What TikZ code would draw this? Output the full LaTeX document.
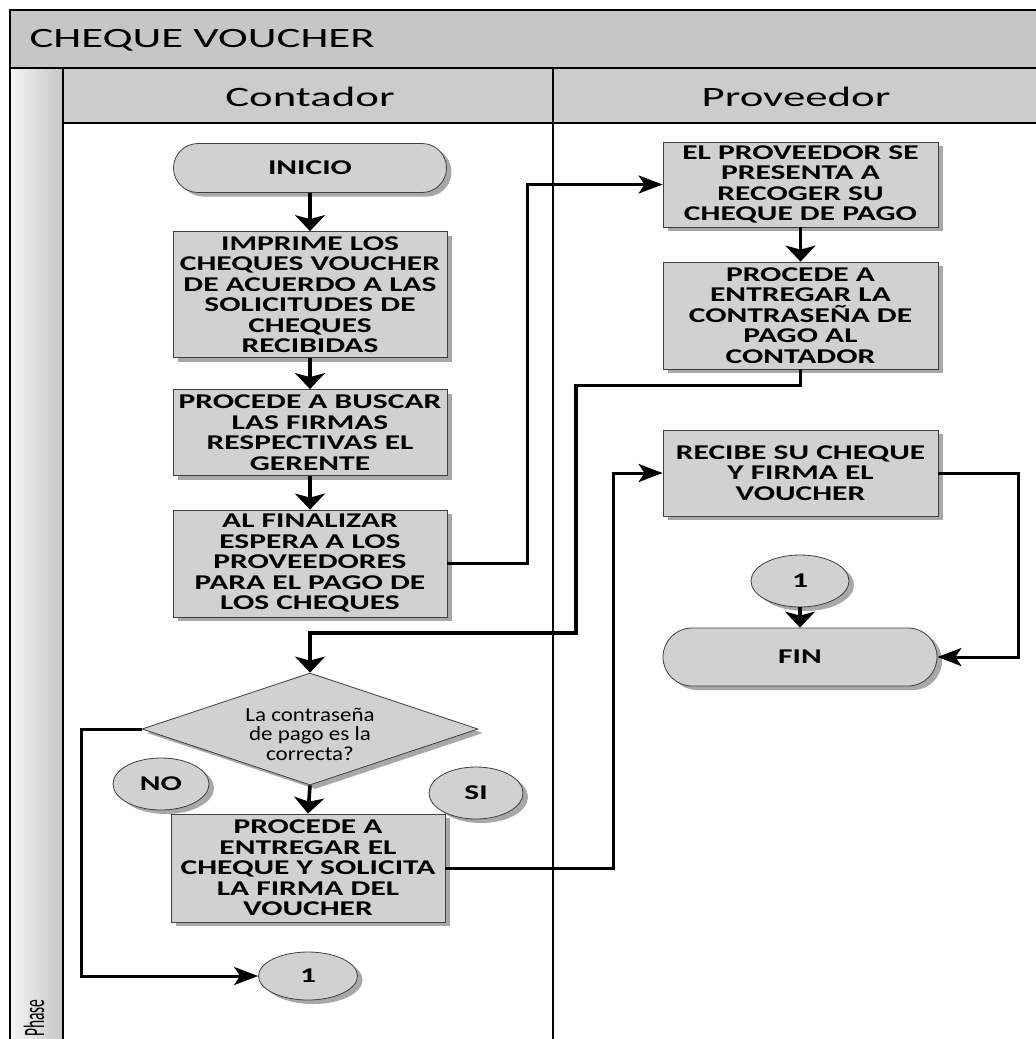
\documentclass[tikz,border=0pt]{standalone}
\usepackage{fontspec}
\setmainfont{Carlito}
\newfontfamily\widefont{Carlito}[FakeStretch=1.6]
\newfontfamily\boxfont{Carlito}[FakeStretch=1.5]
\newfontfamily\questionfont{Carlito}[FakeStretch=1.15]
\usetikzlibrary{shapes.geometric,shapes.misc,arrows.meta,shadows}

\tikzset{
  shapefill/.style={fill=gray!36, draw=black!75, line width=0.8pt,
    drop shadow={shadow xshift=5pt, shadow yshift=-4pt, fill=gray!68, opacity=1}},
  capstext/.style={font=\boxfont\bfseries\fontsize{21}{20.5}\selectfont, align=center},
  procbox/.style={shapefill, capstext, rectangle, minimum width=274pt, inner sep=0pt},
  terminal/.style={shapefill, capstext, rounded rectangle, minimum width=273pt, inner sep=0pt},
  connector/.style={shapefill, capstext, ellipse, inner sep=0pt},
  decision/.style={shapefill, diamond, inner sep=0pt},
  questiontext/.style={align=center, inner sep=0pt, font=\questionfont\fontsize{20}{19.5}\selectfont},
  flow/.style={line width=3pt, line join=miter, draw=black},
  varrow/.style={flow, line width=3.6pt, -{Stealth[length=16pt, width=30pt, inset=4pt]}},
  harrow/.style={flow, -{Stealth[length=24pt, width=18pt, inset=6pt]}},
  band/.style={fill=gray!45, draw=none},
  frameline/.style={draw=black, line width=1.8pt},
  lanetitle/.style={font=\widefont\fontsize{28}{30}\selectfont}
}

\begin{document}
\begin{tikzpicture}[x=1pt,y=-1pt]
\useasboundingbox (0,0) rectangle (1036,1039);
\clip (0,0) rectangle (1036,1039);
\fill[white] (0,0) rectangle (1036,1039);

% pool title band, phase column and lane headers
\fill[band] (10,10) rectangle (1050,68);
\shade[left color=gray!8, right color=gray!45] (10,68) rectangle (63,1050);
\fill[band, fill=gray!40] (63,68) rectangle (1050,123);
\node[lanetitle, anchor=west] (pooltitle) at (26,40) {CHEQUE VOUCHER};
\node[lanetitle] (lane1) at (310,97) {Contador};
\node[lanetitle] (lane2) at (796,97) {Proveedor};
\node[rotate=90, anchor=base west, inner sep=0pt] (phase) at (44,1037)
  {\fontsize{15.5}{16}\selectfont\scalebox{1}[1.9]{Phase}};

% frame and lane separators
\draw[frameline] (10,1050) -- (10,10) -- (1050,10);
\draw[frameline, line width=1.4pt] (10,68) -- (1050,68);
\draw[frameline, line width=1.4pt] (63,123) -- (1050,123);
\draw[frameline] (63,68) -- (63,1050);
\draw[frameline] (553,68) -- (553,1050);

% Contador lane
\node[terminal, minimum height=49pt] (inicio) at (310,168) {INICIO};
\node[procbox, minimum height=126pt] (b1) at (310,294.5)
  {IMPRIME LOS\\CHEQUES VOUCHER\\DE ACUERDO A LAS\\SOLICITUDES DE\\CHEQUES\\RECIBIDAS};
\node[procbox, minimum height=86pt] (b2) at (310,432.5)
  {PROCEDE A BUSCAR\\LAS FIRMAS\\RESPECTIVAS EL\\GERENTE};
\node[procbox, minimum height=107pt] (b3) at (310,563.5)
  {AL FINALIZAR\\ESPERA A LOS\\PROVEEDORES\\PARA EL PAGO DE\\LOS CHEQUES};
\node[decision, minimum width=336pt, minimum height=112pt] (dec) at (310,729) {};
\node[questiontext] (dectext) at (310,734)
  {La contraseña\\de pago es la\\correcta?};
\node[connector, minimum width=96pt, minimum height=52pt] (no) at (161,784) {NO};
\node[connector, minimum width=94pt, minimum height=52pt] (si) at (476,793) {SI};
\node[procbox, minimum height=108pt] (b4) at (308,868)
  {PROCEDE A\\ENTREGAR EL\\CHEQUE Y SOLICITA\\LA FIRMA DEL\\VOUCHER};
\node[connector, minimum width=99pt, minimum height=48pt] (c1) at (308,976) {1};

% Proveedor lane
\node[procbox, minimum height=85pt, minimum width=275pt] (p1) at (800.5,184.5)
  {EL PROVEEDOR SE\\PRESENTA A\\RECOGER SU\\CHEQUE DE PAGO};
\node[procbox, minimum height=107pt, minimum width=275pt] (p2) at (800.5,315.5)
  {PROCEDE A\\ENTREGAR LA\\CONTRASEÑA DE\\PAGO AL\\CONTADOR};
\node[procbox, minimum height=86pt, minimum width=275pt] (p3) at (800.5,473)
  {RECIBE SU CHEQUE\\Y FIRMA EL\\VOUCHER};
\node[connector, minimum width=98pt, minimum height=52pt] (c2) at (800,581) {1};
\node[terminal, minimum height=58pt, minimum width=274pt] (fin) at (800,657) {FIN};

% flow connectors
\draw[varrow] (inicio) -- (b1);
\draw[varrow] (b1) -- (b2);
\draw[varrow] (b2) -- (b3);
\draw[harrow] (b3.east) -- ++(80,0) |- (p1.west);
\draw[varrow] (p1) -- (p2);
\draw[varrow] (p2.south) -- ++(0,16) -| (576,633) -| (dec.north);
\draw[varrow] (dec.south) -- (b4.north);
\draw[harrow] (dec.west) -- ++(-60,0) |- (c1.west);
\draw[harrow] (b4.east) -- ++(168,0) |- (p3.west);
\draw[harrow] (p3.east) -- ++(80,0) |- (fin.east);
\draw[varrow] (c2) -- (fin);
\end{tikzpicture}
\end{document}
